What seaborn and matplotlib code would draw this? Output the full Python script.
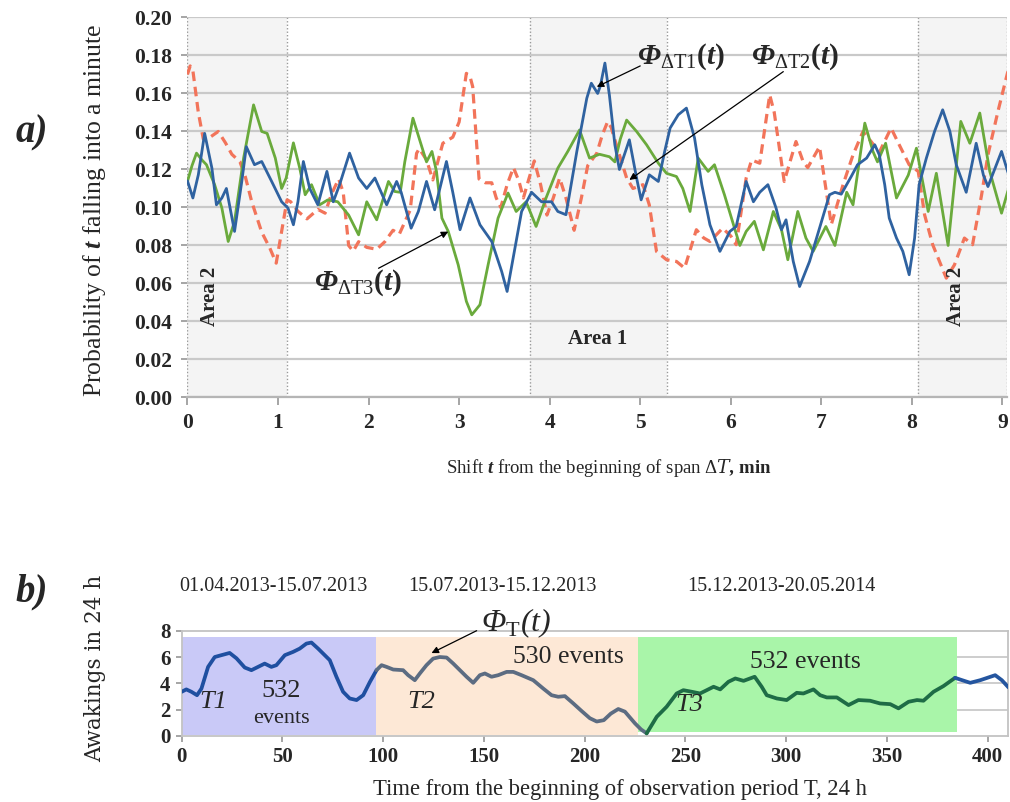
import numpy as np
import pandas as pd
import matplotlib
matplotlib.use("Agg")
import matplotlib.pyplot as plt
from matplotlib.patches import Rectangle
import seaborn as sns

# ---------------- data: panel a ----------------
t_red = [0.00, 0.03, 0.06, 0.12, 0.175, 0.25, 0.34, 0.42, 0.49, 0.58, 0.64, 0.71, 0.82, 0.91, 0.98,
         1.06, 1.10, 1.14, 1.22, 1.32, 1.44, 1.52, 1.59, 1.67, 1.72, 1.78, 1.83, 1.89, 1.98, 2.09,
         2.18, 2.27, 2.34, 2.46, 2.53, 2.56, 2.64, 2.71, 2.82, 2.93, 3.00, 3.08, 3.12, 3.15, 3.22,
         3.29, 3.36, 3.41, 3.46, 3.53, 3.60, 3.66, 3.71, 3.77, 3.83, 3.90, 3.97, 4.04, 4.11, 4.18,
         4.27, 4.35, 4.42, 4.52, 4.58, 4.64, 4.68, 4.77, 4.85, 4.92, 5.03, 5.10, 5.18, 5.29, 5.40,
         5.49, 5.62, 5.70, 5.77, 5.91, 6.00, 6.06, 6.17, 6.23, 6.32, 6.43, 6.48, 6.59, 6.72, 6.80,
         6.85, 6.98, 7.05, 7.11, 7.24, 7.35, 7.46, 7.55, 7.64, 7.77, 7.86, 7.97, 8.07, 8.14, 8.23,
         8.38, 8.47, 8.58, 8.67, 8.77, 8.84, 8.95, 9.06]
v_red = [0.170, 0.1745, 0.172, 0.150, 0.136, 0.137, 0.140, 0.134, 0.128, 0.124, 0.116, 0.103, 0.087, 0.0786, 0.0707,
         0.093, 0.104, 0.103, 0.098, 0.094, 0.099, 0.097, 0.107, 0.115, 0.108, 0.080, 0.077, 0.082, 0.079, 0.078,
         0.082, 0.088, 0.086, 0.0987, 0.1285, 0.131, 0.125, 0.1145, 0.1338, 0.137, 0.145, 0.1706, 0.169, 0.1636, 0.115,
         0.113, 0.113, 0.105, 0.100, 0.112, 0.121, 0.114, 0.105, 0.115, 0.1245, 0.112, 0.096, 0.105, 0.1155, 0.105,
         0.088, 0.105, 0.122, 0.1285, 0.138, 0.1452, 0.142, 0.1277, 0.1155, 0.110, 0.112, 0.1014, 0.0768, 0.0725, 0.0716,
         0.0681, 0.0883, 0.084, 0.0821, 0.0891, 0.085, 0.0804, 0.1155, 0.125, 0.1233, 0.1593, 0.150, 0.1137, 0.1347, 0.124,
         0.121, 0.132, 0.110, 0.091, 0.112, 0.1277, 0.140, 0.1347, 0.129, 0.1418, 0.133, 0.1225, 0.119, 0.0962, 0.0804,
         0.0628, 0.0698, 0.0839, 0.0804, 0.1067, 0.1277, 0.1505, 0.1716]

t_green = [0.00, 0.05, 0.10, 0.16, 0.21, 0.30, 0.38, 0.45, 0.52, 0.62, 0.73, 0.82, 0.88, 0.97, 1.04,
           1.09, 1.17, 1.24, 1.30, 1.37, 1.46, 1.55, 1.66, 1.78, 1.89, 1.98, 2.09, 2.22, 2.29, 2.35,
           2.40, 2.49, 2.57, 2.64, 2.70, 2.75, 2.81, 2.88, 2.99, 3.08, 3.14, 3.23, 3.32, 3.43, 3.54,
           3.63, 3.74, 3.85, 3.96, 4.09, 4.20, 4.33, 4.44, 4.55, 4.66, 4.72, 4.78, 4.85, 4.96, 5.07,
           5.20, 5.29, 5.40, 5.47, 5.55, 5.64, 5.75, 5.82, 5.93, 6.03, 6.10, 6.17, 6.26, 6.36, 6.47,
           6.56, 6.63, 6.74, 6.83, 6.91, 7.05, 7.15, 7.28, 7.35, 7.48, 7.57, 7.62, 7.71, 7.83, 7.96,
           8.05, 8.18, 8.27, 8.40, 8.54, 8.64, 8.75, 8.86, 8.99, 9.08]
v_green = [0.1137, 0.122, 0.1286, 0.125, 0.1225, 0.112, 0.0997, 0.0821, 0.0927, 0.126, 0.154, 0.140, 0.139, 0.126, 0.110,
           0.1155, 0.134, 0.1207, 0.1067, 0.112, 0.1014, 0.104, 0.103, 0.096, 0.0856, 0.103, 0.0935, 0.1137, 0.1084, 0.108,
           0.124, 0.147, 0.1347, 0.124, 0.1295, 0.119, 0.0944, 0.0874, 0.0698, 0.0506, 0.0435, 0.0488, 0.0698, 0.0944, 0.1076,
           0.0979, 0.103, 0.090, 0.105, 0.1207, 0.1295, 0.1408, 0.126, 0.128, 0.1267, 0.124, 0.136, 0.146, 0.140, 0.133,
           0.1233, 0.118, 0.1163, 0.110, 0.0979, 0.126, 0.119, 0.1225, 0.1067, 0.0909, 0.080, 0.0874, 0.0927, 0.0777, 0.0979,
           0.0883, 0.0725, 0.0979, 0.0839, 0.0769, 0.090, 0.080, 0.108, 0.1014, 0.1444, 0.1295, 0.124, 0.1338, 0.105, 0.117,
           0.1312, 0.0979, 0.118, 0.080, 0.1453, 0.1338, 0.1497, 0.119, 0.097, 0.112]

t_blue = [0.00, 0.06, 0.12, 0.19, 0.27, 0.32, 0.38, 0.43, 0.52, 0.60, 0.65, 0.74, 0.82, 0.93, 1.04,
          1.11, 1.17, 1.22, 1.28, 1.35, 1.44, 1.54, 1.61, 1.68, 1.79, 1.89, 1.98, 2.07, 2.20, 2.31,
          2.36, 2.47, 2.55, 2.64, 2.73, 2.86, 2.93, 3.01, 3.12, 3.23, 3.36, 3.47, 3.53, 3.61, 3.69,
          3.80, 3.91, 4.02, 4.09, 4.18, 4.30, 4.41, 4.46, 4.53, 4.56, 4.61, 4.66, 4.72, 4.77, 4.88,
          4.96, 5.01, 5.10, 5.20, 5.27, 5.33, 5.42, 5.51, 5.60, 5.68, 5.77, 5.88, 5.99, 6.06, 6.17,
          6.25, 6.32, 6.41, 6.50, 6.56, 6.61, 6.69, 6.76, 6.87, 6.98, 7.09, 7.15, 7.22, 7.33, 7.40,
          7.50, 7.59, 7.64, 7.70, 7.75, 7.83, 7.90, 7.97, 8.03, 8.08, 8.16, 8.25, 8.34, 8.42, 8.49,
          8.60, 8.71, 8.79, 8.84, 8.99, 9.08]
v_blue = [0.114, 0.105, 0.1172, 0.139, 0.1207, 0.1014, 0.105, 0.110, 0.0874, 0.1137, 0.132, 0.1225, 0.1242, 0.1137, 0.103,
          0.0997, 0.0909, 0.103, 0.1242, 0.110, 0.1014, 0.119, 0.103, 0.112, 0.1286, 0.1155, 0.110, 0.1155, 0.1014, 0.1137,
          0.108, 0.0891, 0.0979, 0.1137, 0.0988, 0.1242, 0.108, 0.0883, 0.105, 0.0909, 0.0821, 0.0663, 0.0558, 0.0769, 0.0979,
          0.108, 0.103, 0.103, 0.0979, 0.0962, 0.1295, 0.1575, 0.1654, 0.160, 0.164, 0.176, 0.159, 0.133, 0.120, 0.1356,
          0.1155, 0.104, 0.1172, 0.1137, 0.1295, 0.1418, 0.1488, 0.1523, 0.1365, 0.112, 0.0909, 0.0769, 0.0874, 0.090, 0.1137,
          0.103, 0.108, 0.112, 0.0997, 0.0883, 0.0935, 0.0716, 0.0584, 0.0716, 0.0891, 0.1067, 0.108, 0.107, 0.1163, 0.1225,
          0.126, 0.133, 0.1277, 0.112, 0.0944, 0.0839, 0.0769, 0.0646, 0.0839, 0.112, 0.126, 0.140, 0.1514, 0.140, 0.1225,
          0.108, 0.1338, 0.117, 0.111, 0.1295, 0.1155]

area_spans = [(0.0, 1.10), (3.78, 5.30), (8.07, 9.05)]
a_yticks = [0.00, 0.02, 0.04, 0.06, 0.08, 0.10, 0.12, 0.14, 0.16, 0.18, 0.20]
a_xticks = [0, 1, 2, 3, 4, 5, 6, 7, 8, 9]

# ---------------- data: panel b ----------------
T_days = [0, 2.3, 4.8, 7.6, 9.8, 13.1, 16.4, 19.7, 23.8, 27.2, 31.3, 34.6, 37.9, 41.2, 44.5, 47.0, 51.2,
          55.3, 58.6, 61.9, 64.4, 67.7, 73.5, 76.8, 80.1, 83.4, 86.8, 90.1, 93.4, 96.7, 99.2, 101.7,
          105.0, 109.9, 112.4, 115.7, 118.2, 121.5, 124.8, 128.1, 131.5, 134.8, 138.1, 141.4, 144.7,
          148.0, 150.5, 153.8, 157.1, 161.3, 164.6, 168.7, 174.5, 179.5, 183.6, 186.9, 190.2, 194.4,
          198.5, 202.6, 206.0, 209.5, 213.0, 216.7, 220.0, 225.0, 228.0, 230.8, 235.8, 240.7, 245.7,
          249.0, 253.2, 257.3, 260.6, 264.0, 267.3, 271.4, 274.8, 278.9, 284.4, 287.9, 290.4, 295.4,
          300.3, 305.3, 308.6, 313.6, 316.9, 320.2, 325.2, 331.0, 335.9, 341.7, 346.7, 351.7, 355.8,
          360.8, 365.0, 368.2, 373.2, 378.1, 383.9, 386.4, 391.4, 396.4, 403.8, 407.1, 410.4]
awakings = [3.36, 3.54, 3.36, 3.10, 3.6, 5.25, 6.0, 6.14, 6.31, 5.9, 5.2, 5.0, 5.25, 5.5, 5.25, 5.38, 6.14,
            6.39, 6.64, 7.02, 7.1, 6.64, 5.76, 4.5, 3.36, 2.85, 2.73, 3.1, 4.1, 5.0, 5.38, 5.25,
            5.05, 5.0, 4.62, 4.24, 4.75, 5.38, 5.88, 6.0, 5.96, 5.5, 5.0, 4.5, 4.04,
            4.62, 4.75, 4.5, 4.62, 4.87, 4.87, 4.62, 4.24, 3.6, 3.1, 2.98, 3.03, 2.47,
            1.9, 1.35, 1.1, 1.2, 1.7, 2.05, 1.85, 0.96, 0.5, 0.2, 1.46, 2.22, 3.23,
            3.48, 3.36, 3.23, 3.48, 3.74, 3.54, 4.12, 4.37, 4.19, 4.5, 3.74, 3.1, 2.85,
            2.73, 3.28, 3.23, 3.54, 3.1, 2.93, 2.93, 2.35, 2.73, 2.68, 2.47, 2.42, 2.1,
            2.6, 2.73, 2.68, 3.36, 3.79, 4.42, 4.29, 4.04, 4.24, 4.62, 4.24, 3.69]
period_bounds = [0.0, 96.5, 226.3, 384.8]
period_labels = ["01.04.2013-15.07.2013", "15.07.2013-15.12.2013", "15.12.2013-20.05.2014"]
b_xticks = [0, 50, 100, 150, 200, 250, 300, 350, 400]
b_yticks = [0, 2, 4, 6, 8]

# ---------------- style ----------------
sns.set_theme(style="white")
SERIF = ["Liberation Serif", "DejaVu Serif"]
plt.rcParams["font.family"] = SERIF
plt.rcParams["mathtext.fontset"] = "custom"
plt.rcParams["mathtext.rm"] = "Liberation Serif"
plt.rcParams["mathtext.it"] = "DejaVu Serif:italic"
plt.rcParams["mathtext.bf"] = "Liberation Serif:bold"
plt.rcParams["mathtext.bfit"] = "Liberation Serif:italic:bold"

fig = plt.figure(figsize=(10.10, 8.02), dpi=100)

# ================= panel a =================
ax = fig.add_axes([0.1856, 0.5044, 0.8114, 0.4738])
ax.set_xlim(0, 9.05)
ax.set_ylim(0, 0.2)
for x0, x1 in area_spans:
    ax.add_patch(Rectangle((x0, 0), x1 - x0, 0.2, facecolor="#f4f4f4", edgecolor="none", zorder=0))
    for xb in (x0, x1):
        ax.axvline(xb, color="#9a9a9a", lw=1.0, ls=(0, (1, 1.5)), zorder=1)
for yv in a_yticks:
    ax.axhline(yv, color="#c9c9c9", lw=1.6, zorder=1)

sns.lineplot(x=t_red, y=v_red, ax=ax, color="#f2745a", lw=2.3, estimator=None, sort=False, zorder=3)
ax.lines[-1].set_dashes([3.0, 1.8])
sns.lineplot(x=t_green, y=v_green, ax=ax, color="#6aaa3c", lw=2.0, estimator=None, sort=False, zorder=4)
sns.lineplot(x=t_blue, y=v_blue, ax=ax, color="#2f62a0", lw=2.0, estimator=None, sort=False, zorder=5)
for ln in ax.lines:
    ln.set_solid_joinstyle("round")
    ln.set_dash_joinstyle("round")

ax.set_yticks(a_yticks)
ax.set_yticklabels([f"{v:.2f}" for v in a_yticks], fontsize=15.5, fontweight="bold")
ax.set_xticks(a_xticks)
ax.set_xticklabels([str(v) for v in a_xticks], fontsize=15.5, fontweight="bold")
ax.tick_params(axis="y", length=4, color="#9a9a9a", pad=7, left=True)
ax.tick_params(axis="x", length=6, color="#9a9a9a", pad=5, bottom=True)
for s in ("left", "top", "right"):
    ax.spines[s].set_visible(False)
ax.spines["bottom"].set_color("#b5b5b5")
ax.spines["bottom"].set_linewidth(1.6)
ax.grid(False)

ax.text(0.25, 0.053, "Area 2", rotation=90, ha="center", va="center", fontsize=15, fontweight="bold", zorder=6)
ax.text(4.53, 0.031, "Area 1", ha="center", va="center", fontsize=15, fontweight="bold", zorder=6)
ax.text(8.49, 0.053, "Area 2", rotation=90, ha="center", va="center", fontsize=15, fontweight="bold", zorder=6)

aprops = dict(arrowstyle="-|>", color="black", lw=0.9, mutation_scale=10, shrinkA=0, shrinkB=0)
ax.annotate("", xy=(4.52, 0.1635), xytext=(5.0, 0.1745), arrowprops=aprops, zorder=7)
ax.text(4.96, 0.1795, r"$\mathbfit{Φ}_{\mathrm{ΔT1}}\mathbf{(}\mathbfit{t}\mathbf{)}$",
        ha="left", va="center", fontsize=21, zorder=7)
ax.annotate("", xy=(4.88, 0.1145), xytext=(6.58, 0.1715), arrowprops=aprops, zorder=7)
ax.text(6.22, 0.1795, r"$\mathbfit{Φ}_{\mathrm{ΔT2}}\mathbf{(}\mathbfit{t}\mathbf{)}$",
        ha="left", va="center", fontsize=21, zorder=7)
ax.annotate("", xy=(2.88, 0.0873), xytext=(2.11, 0.068), arrowprops=aprops, zorder=7)
ax.text(1.40, 0.0605, r"$\mathbfit{Φ}_{\mathrm{ΔT3}}\mathbf{(}\mathbfit{t}\mathbf{)}$",
        ha="left", va="center", fontsize=21, zorder=7)

fig.text(0.031, 0.834, "a)", fontsize=28, fontweight="bold", style="italic", ha="center", va="center")
fig.text(0.094, 0.738, r"Probability of $\mathbfit{t}$ falling into a minute", rotation=90,
         fontsize=18.5, ha="center", va="center")
fig.text(0.603, 0.416, r"Shift $\mathbfit{t}$ from the beginning of span $\mathit{ΔT}$$\mathbfit{,}$ $\mathbf{min}$",
         fontsize=13.5, ha="center", va="center")

# ================= panel b =================
bx = fig.add_axes([0.1799, 0.0823, 0.8178, 0.1313])
bx.set_xlim(0, 410)
bx.set_ylim(0, 8)
for yv in b_yticks[1:-1]:
    bx.axhline(yv, color="#c9c9c9", lw=1.3, zorder=1)
period_colors = ["#c9c9f7", "#fde8d6", "#a9f5a9"]
period_bottoms = [0.08, 0.08, 0.33]
for i in range(3):
    x0, x1 = period_bounds[i], period_bounds[i + 1]
    bx.add_patch(Rectangle((x0, period_bottoms[i]), x1 - x0, 7.5 - period_bottoms[i],
                           facecolor=period_colors[i], edgecolor="none", zorder=1.5))

T_arr = np.array(T_days)
A_arr = np.array(awakings)
seg_edges = [-1, 96.7, 230.8, 383.9, 1000]
seg_colors = ["#1f4fa0", "#5c6c82", "#1e6c46", "#24559f"]
for i in range(4):
    m = (T_arr >= seg_edges[i]) & (T_arr <= seg_edges[i + 1])
    sns.lineplot(x=T_arr[m], y=A_arr[m], ax=bx, color=seg_colors[i], lw=2.7,
                 estimator=None, sort=False, zorder=3)
for ln in bx.lines:
    ln.set_solid_joinstyle("round")
    ln.set_solid_capstyle("round")

bx.set_xticks(b_xticks)
bx.set_xticklabels([str(v) for v in b_xticks], fontsize=15, fontweight="bold")
bx.set_yticks(b_yticks)
bx.set_yticklabels([str(v) for v in b_yticks], fontsize=15, fontweight="bold")
bx.tick_params(axis="x", length=4, color="#9a9a9a", pad=4, bottom=True)
bx.tick_params(axis="y", length=4, color="#9a9a9a", pad=4, left=True)
for s in bx.spines.values():
    s.set_color("#c3c3c3")
    s.set_linewidth(1.3)
bx.grid(False)

bx.text(15.4, 2.6, "T1", style="italic", fontsize=19, ha="center", va="center", zorder=6)
bx.text(49.5, 3.45, "532", fontsize=19, ha="center", va="center", zorder=6)
bx.text(49.5, 1.35, "events", fontsize=16, ha="center", va="center", zorder=6)
bx.text(119, 2.6, "T2", style="italic", fontsize=19, ha="center", va="center", zorder=6)
bx.text(192, 6.0, "530 events", fontsize=18.5, ha="center", va="center", zorder=6)
bx.text(309.5, 5.6, "532 events", fontsize=18.5, ha="center", va="center", zorder=6)
bx.text(252, 2.35, "T3", style="italic", fontsize=19, ha="center", va="center", zorder=6)
bx.annotate("", xy=(124, 6.3), xytext=(146.4, 8.0), arrowprops=aprops, zorder=7, annotation_clip=False)
bx.text(148.5, 8.6, r"Φ$_{\mathrm{T}}$(t)", style="italic", fontsize=23, ha="left", va="center",
        zorder=7, clip_on=False)

for lbl, xc in zip(period_labels, [0.271, 0.497, 0.774]):
    fig.text(xc, 0.269, lbl, fontsize=14.5, ha="center", va="center")

fig.text(0.031, 0.262, "b)", fontsize=28, fontweight="bold", style="italic", ha="center", va="center")
fig.text(0.094, 0.167, "Awakings in 24 h", rotation=90, fontsize=15.5, ha="center", va="center",
         family=["DejaVu Serif"])
fig.text(0.614, 0.016, "Time from the beginning of observation period T, 24 h", fontsize=16.3,
         ha="center", va="center")

fig.savefig("out.png", dpi=100)
